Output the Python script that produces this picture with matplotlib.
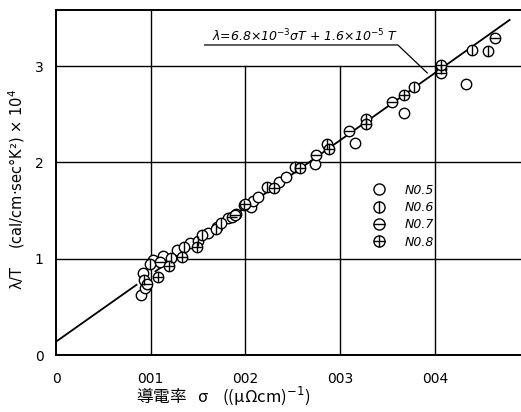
import matplotlib.pyplot as plt
from matplotlib.lines import Line2D
from matplotlib.legend_handler import HandlerTuple

# data
no5_x = [0.0090, 0.0094, 0.0092, 0.0102, 0.0113, 0.0128, 0.0142, 0.0160, 0.0170, 0.0182,
         0.0190, 0.0206, 0.0208, 0.0213, 0.0235, 0.0243, 0.0273, 0.0316, 0.0367, 0.0433]
no5_y = [0.62, 0.70, 0.85, 0.99, 1.03, 1.09, 1.16, 1.27, 1.33, 1.42,
         1.47, 1.54, 1.60, 1.64, 1.80, 1.85, 1.98, 2.20, 2.51, 2.81]
no6_x = [0.0093, 0.0099, 0.0121, 0.0135, 0.0150, 0.0154, 0.0169, 0.0174, 0.0198, 0.0223,
         0.0252, 0.0286, 0.0327, 0.0378, 0.0407, 0.0439, 0.0456]
no6_y = [0.78, 0.95, 1.01, 1.12, 1.19, 1.25, 1.31, 1.37, 1.56, 1.75,
         1.95, 2.19, 2.45, 2.78, 2.97, 3.17, 3.16]
no7_x = [0.0096, 0.0110, 0.0186, 0.0189, 0.0200, 0.0275, 0.0309, 0.0355, 0.0407, 0.0464]
no7_y = [0.74, 0.97, 1.43, 1.46, 1.57, 2.08, 2.33, 2.63, 2.93, 3.29]
no8_x = [0.0108, 0.0119, 0.0133, 0.0149, 0.0230, 0.0258, 0.0288, 0.0327, 0.0367, 0.0407]
no8_y = [0.81, 0.93, 1.02, 1.12, 1.74, 1.94, 2.14, 2.40, 2.70, 3.01]

fit1_x = [0.0, 0.0085]
fit1_y = [0.14, 0.73]
fit2_x = [0.0105, 0.0479]
fit2_y = [0.87, 3.48]

lead_x = [0.0157, 0.0361, 0.0392]
lead_y = [3.22, 3.22, 2.93]

xticks = [0, 0.01, 0.02, 0.03, 0.04]
xlabels = ['0', '001', '002', '003', '004']
yticks = [0, 1, 2, 3]

fig = plt.figure(figsize=(5.21, 4.12), dpi=100)
ax = fig.add_axes([0.1075, 0.138, 0.8925, 0.837])
ax.set_xlim(0, 0.0491)
ax.set_ylim(0, 3.58)

# grid (hand drawn, some lines stop short)
for x in [0.01, 0.04]:
    ax.axvline(x, color='k', lw=1.0, zorder=1)
for x in [0.02, 0.03]:
    ax.axvline(x, ymax=3.0 / 3.58, color='k', lw=1.0, zorder=1)
for y in yticks[1:]:
    ax.axhline(y, color='k', lw=1.0, zorder=1)

ax.plot(fit1_x, fit1_y, color='k', lw=1.3, zorder=2)
ax.plot(fit2_x, fit2_y, color='k', lw=1.3, zorder=2)
ax.plot(lead_x, lead_y, color='k', lw=0.9, zorder=2)
ax.text(0.0165, 3.26, r'$\lambda$=6.8×10$^{-3}$$\sigma$T + 1.6×10$^{-5}$ T',
        fontsize=9, style='italic')

ms = 7.5
mk = dict(mfc='white', mec='k', mew=1.0, ls='none', zorder=3)
ax.plot(no5_x, no5_y, 'o', ms=ms, **mk)
ax.plot(no6_x, no6_y, 'o', ms=ms, **mk)
ax.plot(no6_x, no6_y, '|', ms=ms, color='k', mew=1.0, ls='none', zorder=4)
ax.plot(no7_x, no7_y, 'o', ms=ms, **mk)
ax.plot(no7_x, no7_y, '_', ms=ms, color='k', mew=1.0, ls='none', zorder=4)
ax.plot(no8_x, no8_y, 'o', ms=ms, **mk)
ax.plot(no8_x, no8_y, '|', ms=ms, color='k', mew=1.0, ls='none', zorder=4)
ax.plot(no8_x, no8_y, '_', ms=ms, color='k', mew=1.0, ls='none', zorder=4)

def h(m):
    return Line2D([], [], marker=m, ms=ms + 0.5, mfc='white', mec='k', color='k', mew=1.0, ls='none')

handles = [(h('o'),), (h('o'), h('|')), (h('o'), h('_')), (h('o'), h('|'), h('_'))]
labels = ['N0.5', 'N0.6', 'N0.7', 'N0.8']
leg = ax.legend(handles, labels, handler_map={tuple: HandlerTuple(ndivide=1, pad=0)},
                loc='upper left', bbox_to_anchor=(0.655, 0.53), frameon=False,
                handlelength=1.2, handletextpad=1.4, labelspacing=0.35,
                prop={'style': 'italic', 'size': 9})

ax.spines['right'].set_visible(False)
for s in ['left', 'bottom', 'top']:
    ax.spines[s].set_linewidth(1.4)

ax.set_xticks(xticks)
ax.set_xticklabels(xlabels, fontsize=10)
ax.set_yticks(yticks)
ax.tick_params(length=0, labelsize=10)
ax.tick_params(axis='x', pad=12)
ax.tick_params(axis='y', pad=9)

ax.set_xlabel('導電率   σ    ((μΩcm)$^{-1}$)', fontsize=12,
              family=['Noto Sans CJK JP', 'DejaVu Sans'])
ax.xaxis.set_label_coords(0.36, -0.085)
ax.set_ylabel('λ/T    (cal/cm·sec°K²) × 10$^{4}$', fontsize=10.5)
ax.yaxis.set_label_coords(-0.062, 0.48)

fig.savefig('out.png', dpi=100)
